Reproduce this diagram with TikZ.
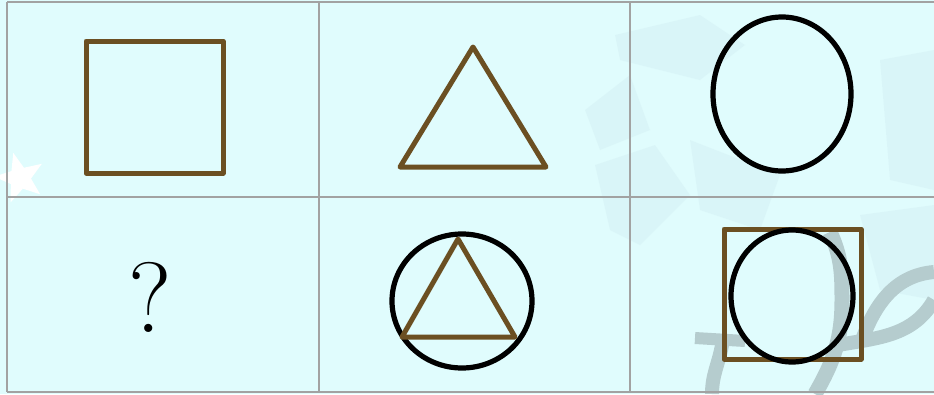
\documentclass[tikz,border=0pt]{standalone}
\usepackage{tikz}
\definecolor{cellbg}{RGB}{224,252,253}
\definecolor{shapebrown}{RGB}{107,79,34}
\definecolor{gridgray}{RGB}{162,162,162}
\definecolor{markgray}{RGB}{181,204,206}
\definecolor{markpale}{RGB}{212,240,244}

\begin{document}
\begin{tikzpicture}[x=1pt,y=-1pt,
    gridline/.style={gridgray, line width=2pt},
    brownline/.style={shapebrown, line width=5pt, line join=round},
    blackline/.style={black, line width=5.2pt},
    pale/.style={markpale, opacity=0.5}]
        \fill[cellbg] (0,0) rectangle (934,394);
        \useasboundingbox (0,0) rectangle (934,394);

        % faint watermark
        \fill[pale] (615,35) -- (700,15) -- (745,45) -- (700,80) -- (620,60) -- cycle;
        \fill[pale] (585,110) -- (630,75) -- (650,130) -- (600,150) -- cycle;
        \fill[pale] (595,165) -- (655,145) -- (690,195) -- (640,245) -- (610,230) -- cycle;
        \fill[pale] (880,60) -- (934,50) -- (934,190) -- (890,180) -- cycle;
        \fill[pale] (690,140) -- (780,175) -- (760,230) -- (700,210) -- cycle;
        \fill[pale] (860,215) -- (934,205) -- (934,300) -- (880,290) -- cycle;
        \fill[white, shift={(20,178)}, rotate=15] (-90:26) -- (-54:11) -- (-18:26) -- (18:11) -- (54:26) -- (90:11) -- (126:26) -- (162:11) -- (198:26) -- (234:11) -- cycle;
        \draw[markgray, line width=15pt] (830,232) to[out=-65,in=90] (842,300) to[out=-90,in=60] (815,394);
        \draw[markgray, line width=14pt] (838,345) to[out=10,in=-120] (934,300);
        \draw[markgray, line width=14pt] (934,272) to[out=185,in=70] (862,340);
        \draw[markgray, line width=12pt] (695,338) -- (745,341);
        \draw[markgray, line width=14pt] (722,345) to[out=-100,in=90] (712,394);

        % grid
        \draw[gridline] (7,2) -- (934,2);
        \draw[gridline] (7,197) -- (934,197);
        \draw[gridline] (7,392) -- (934,392);
        \draw[gridline] (7,2) -- (7,392);
        \draw[gridline] (319,2) -- (319,392);
        \draw[gridline] (630,2) -- (630,392);

        % top row
        \draw[brownline] (86,41) rectangle (223,173);
        \draw[brownline] (473,47) -- (546,167) -- (400,167) -- cycle;
        \draw[blackline] (782,94) ellipse [x radius=69, y radius=77];

        % bottom row
        \node[font=\fontsize{100}{100}\selectfont, text=black, draw=none] (ask) at (150,297) {?};
        \draw[blackline] (462,301) ellipse [x radius=70, y radius=67];
        \draw[brownline] (458,239) -- (515,337) -- (402,337) -- cycle;
        \draw[brownline] (724,229) rectangle (861,359);
        \draw[blackline] (792,296) ellipse [x radius=61, y radius=66];
\end{tikzpicture}
\end{document}
